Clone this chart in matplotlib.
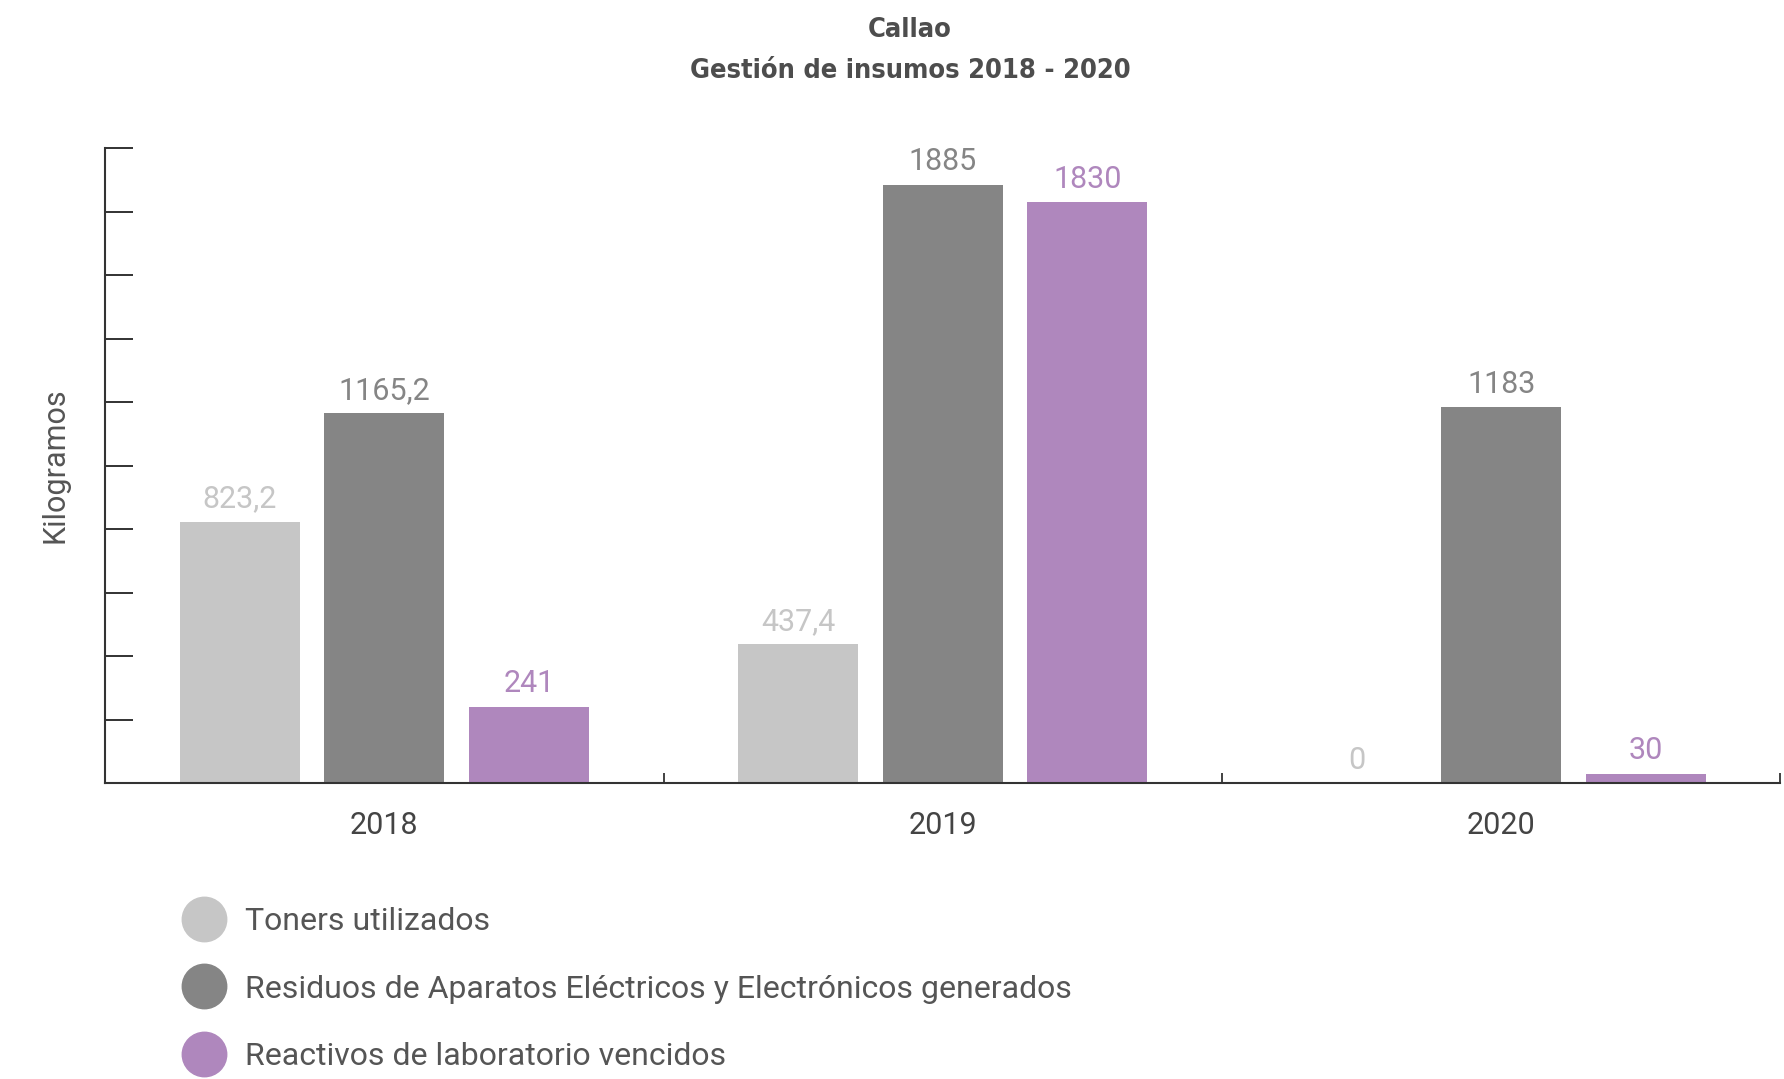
import numpy as np
import matplotlib
matplotlib.use("Agg")
import matplotlib.pyplot as plt
from matplotlib.lines import Line2D


YEARS = ["2018", "2019", "2020"]
SERIES = [
    "Toners utilizados",
    "Residuos de Aparatos Eléctricos y Electrónicos generados",
    "Reactivos de laboratorio vencidos",
]
TONERS = [823.2, 437.4, 0]
RAEE = [1165.2, 1885, 1183]
REACTIVOS = [241, 1830, 30]
TONERS_LABELS = ["823,2", "437,4", "0"]
RAEE_LABELS = ["1165,2", "1885", "1183"]
REACTIVOS_LABELS = ["241", "1830", "30"]

COLORS = ["#c6c6c6", "#858585", "#af87bd"]
TEXT = "#555555"

plt.rcParams["font.family"] = ["Roboto", "DejaVu Sans"]

fig = plt.figure(figsize=(17.84, 10.79), dpi=100)
ax = fig.add_axes([0.0589, 0.2743, 0.9391, 0.5885])

x = np.arange(len(YEARS))
width = 0.215
offset = 0.259
values = [TONERS, RAEE, REACTIVOS]
labels = [TONERS_LABELS, RAEE_LABELS, REACTIVOS_LABELS]
for i, (vals, labs, color) in enumerate(zip(values, labels, COLORS)):
    pos = x + (i - 1) * offset
    ax.bar(pos, vals, width=width, color=color, zorder=2)
    for px, v, lab in zip(pos, vals, labs):
        ax.annotate(lab, (px, v), xytext=(0, 6), textcoords="offset points",
                    ha="center", va="bottom", fontsize=22, color=color)

ax.set_xlim(-0.5, 2.5)
ax.set_ylim(0, 2000)
ax.set_yticks(np.arange(0, 2001, 200))
ax.set_yticklabels([])
ax.tick_params(axis="y", direction="in", length=20, width=1.3, color="#222222")
ax.set_xticks(x)
ax.set_xticklabels(YEARS, fontsize=22, color="#444444")
ax.tick_params(axis="x", which="major", length=0, pad=20)
ax.set_xticks([0.5, 1.5, 2.5], minor=True)
ax.tick_params(axis="x", which="minor", direction="in", length=7, width=1.3, color="#333333")

for side in ["top", "right"]:
    ax.spines[side].set_visible(False)
for side in ["left", "bottom"]:
    ax.spines[side].set_color("#333333")
    ax.spines[side].set_linewidth(1.5)

ax.set_ylabel("Kilogramos", fontsize=22, color=TEXT, labelpad=22)

title_font = dict(family=["DejaVu Sans"], fontstretch="condensed",
                  fontweight="bold", color="#4d4d4d", fontsize=19.5)
fig.text(0.51, 0.972, "Callao", ha="center", va="center", **title_font)
fig.text(0.51, 0.934, "Gestión de insumos 2018 - 2020", ha="center", va="center",
         **title_font)

handles = [Line2D([], [], marker="o", linestyle="", markersize=32,
                  markerfacecolor=c, markeredgecolor=c) for c in COLORS]
fig.legend(handles, SERIES, loc="upper left", bbox_to_anchor=(0.0945, 0.174),
           frameon=False, fontsize=23, labelcolor=TEXT, handletextpad=0.7,
           labelspacing=1.2, borderpad=0, handlelength=1.2)

fig.savefig("out.png", dpi=100)
